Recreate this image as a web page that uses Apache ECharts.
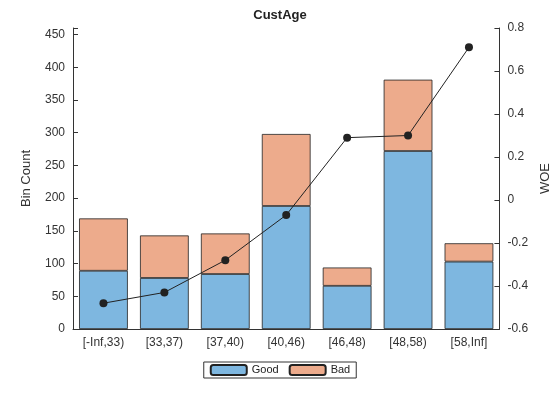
<!DOCTYPE html>
<html>
<head>
<meta charset="utf-8">
<script src="https://cdn.jsdelivr.net/npm/echarts@6/dist/echarts.min.js"></script>
</head>
<body style="margin:0">
<div id="chart" style="width:560px;height:420px"></div>
<script>
var bins = ['[-Inf,33)', '[33,37)', '[37,40)', '[40,46)', '[46,48)', '[48,58)', '[58,Inf]'];
var good = [89, 78, 84, 188, 66, 272, 103];
var bad = [80, 65, 62, 110, 28, 109, 28];
var woe = [-0.48, -0.43, -0.28, -0.07, 0.29, 0.30, 0.71];

var font = 'Liberation Sans';
var chart = echarts.init(document.getElementById('chart'));
chart.setOption({
  backgroundColor: '#fff',
  animation: false,
  textStyle: {fontFamily: font},
  title: {text: 'CustAge', left: 'center', top: 4,
    textStyle: {fontSize: 13, fontWeight: 'bold', color: '#222', fontFamily: font}},
  grid: {left: 73, right: 57, top: 28, bottom: 91},
  legend: {
    bottom: 42, left: 'center', itemWidth: 36, itemHeight: 10, itemGap: 10,
    borderColor: '#333', borderWidth: 1, padding: [2, 6], borderRadius: 0,
    textStyle: {fontSize: 11, color: '#222'},
    data: ['Good', 'Bad']
  },
  xAxis: {
    type: 'category', data: bins,
    axisLine: {lineStyle: {color: '#333'}},
    axisTick: {show: false},
    axisLabel: {color: '#333', fontSize: 12}
  },
  yAxis: [{
    type: 'value', min: 0, max: 460, interval: 50,
    name: 'Bin Count', nameLocation: 'middle', nameGap: 40,
    nameTextStyle: {fontSize: 13, color: '#333'},
    axisLine: {show: true, lineStyle: {color: '#333'}},
    axisTick: {show: true, inside: true},
    splitLine: {show: false},
    axisLabel: {color: '#333', fontSize: 12, formatter: function (v) { return v === 460 ? '' : v; }}
  }, {
    type: 'value', min: -0.6, max: 0.8, interval: 0.2,
    name: 'WOE', nameLocation: 'middle', nameGap: 38,
    nameTextStyle: {fontSize: 13, color: '#333'},
    axisLine: {show: true, lineStyle: {color: '#333'}},
    axisTick: {show: true, inside: true},
    splitLine: {show: false},
    axisLabel: {color: '#333', fontSize: 12, formatter: function (v) { return Math.abs(v) < 1e-9 ? '0' : v.toFixed(1).replace(/\.0$/, ''); }}
  }],
  series: [
    {name: 'Good', type: 'bar', stack: 'c', data: good, barCategoryGap: '20%',
      itemStyle: {color: '#7EB7E0', borderColor: '#222', borderWidth: 0.8}},
    {name: 'Bad', type: 'bar', stack: 'c', data: bad,
      itemStyle: {color: '#EDAB8C', borderColor: '#222', borderWidth: 0.8}},
    {name: 'WOE', type: 'line', yAxisIndex: 1, data: woe,
      symbol: 'circle', symbolSize: 8,
      lineStyle: {color: '#222', width: 1}, itemStyle: {color: '#222'}}
  ]
});
</script>
</body>
</html>
